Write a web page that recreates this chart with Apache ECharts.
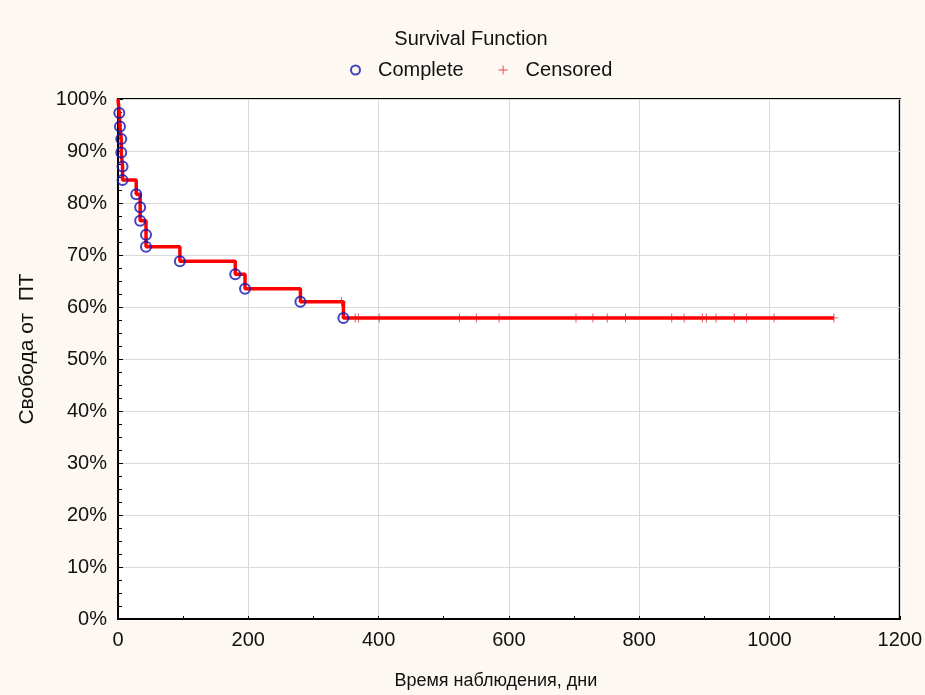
<!DOCTYPE html>
<html>
<head>
<meta charset="utf-8">
<script src="https://cdn.jsdelivr.net/npm/echarts@6/dist/echarts.min.js"></script>
<style>
html,body{margin:0;padding:0;background:#fdf9f2;}
#c{width:925px;height:695px;}
</style>
</head>
<body>
<div id="c"></div>
<script>
// Complete (event) observations: day, cumulative proportion surviving (%)
const eventDays = [2, 3, 5, 5, 7, 7, 28, 34, 34, 43, 43, 95, 180, 195, 280, 346];
const eventSurv = [97.3, 94.7, 92.3, 89.7, 87.0, 84.4, 81.7, 79.2, 76.6, 73.9, 71.6, 68.8, 66.3, 63.5, 61.0, 57.9];
// Censored observations
const censDays = [343, 364, 369, 401, 524, 550, 585, 703, 729, 751, 779, 850, 869, 897, 903, 918, 946, 965, 1007, 1099];
const censSurv = [61.0, 57.9, 57.9, 57.9, 57.9, 57.9, 57.9, 57.9, 57.9, 57.9, 57.9, 57.9, 57.9, 57.9, 57.9, 57.9, 57.9, 57.9, 57.9, 57.9];
const xTicks = [0, 200, 400, 600, 800, 1000, 1200];
const yTicks = [0, 10, 20, 30, 40, 50, 60, 70, 80, 90, 100];

const FONT = 'Liberation Sans, Arial, sans-serif';
const FS = 20;

// step curve built from the data arrays
const curve = [[0, 100]];
eventDays.forEach((d, i) => curve.push([d, eventSurv[i]]));
curve.push([censDays[censDays.length - 1], eventSurv[eventSurv.length - 1]]);

const completeData = eventDays.map((d, i) => [d, eventSurv[i]]);
const censData = censDays.map((d, i) => [d, censSurv[i]]);

const plusPath = 'path://M4.5,0h1v4.5h4.5v1h-4.5v4.5h-1v-4.5h-4.5v-1h4.5z';

const chart = echarts.init(document.getElementById('c'), null, {renderer: 'canvas'});
chart.setOption({
  backgroundColor: '#fdf9f2',
  animation: false,
  title: {
    text: 'Survival Function',
    left: 466, top: 24, textAlign: 'center',
    textStyle: {fontFamily: FONT, fontSize: FS, fontWeight: 'normal', color: '#111'}
  },
  legend: {
    top: 55, left: 345,
    itemWidth: 9, itemHeight: 9, itemGap: 35,
    textStyle: {fontFamily: FONT, fontSize: FS, color: '#111', padding: [0, 0, 0, 13]},
    data: ['Complete', 'Censored']
  },
  grid: {
    left: 118, right: 24, top: 99, bottom: 74,
    show: true, backgroundColor: '#ffffff', borderColor: '#000', borderWidth: 2
  },
  xAxis: {
    type: 'value', min: xTicks[0], max: xTicks[xTicks.length - 1], interval: 200,
    name: 'Время наблюдения, дни', nameLocation: 'middle', nameGap: 53,
    nameTextStyle: {fontFamily: FONT, fontSize: 18, color: '#111', padding: [0, 26, 0, 0]},
    axisLine: {show: true, onZero: false, lineStyle: {color: '#000', width: 2}},
    axisTick: {show: true, inside: true, length: 3, lineStyle: {color: '#000'}},
    minorTick: {show: true, splitNumber: 2, length: 3, lineStyle: {color: '#000'}},
    axisLabel: {fontFamily: FONT, fontSize: FS, color: '#111', margin: 11,
      formatter: v => String(v)},
    splitLine: {show: true, lineStyle: {color: '#d9d9d9', width: 1}}
  },
  yAxis: {
    type: 'value', min: yTicks[0], max: yTicks[yTicks.length - 1], interval: 10,
    name: 'Свобода от  ПТ', nameLocation: 'middle', nameGap: 80,
    nameTextStyle: {fontFamily: FONT, fontSize: 21, color: '#111', padding: [0, 0, 0, 20]},
    axisLine: {show: true, onZero: false, lineStyle: {color: '#000', width: 2}},
    axisTick: {show: true, inside: true, length: 5, lineStyle: {color: '#000'}},
    minorTick: {show: true, splitNumber: 4, length: 4, lineStyle: {color: '#000'}},
    axisLabel: {fontFamily: FONT, fontSize: FS, color: '#111', margin: 11, formatter: '{value}%'},
    splitLine: {show: true, lineStyle: {color: '#d9d9d9', width: 1}}
  },
  series: [
    {
      name: 'curve', type: 'line', step: 'end', data: curve,
      showSymbol: false, symbol: 'none',
      lineStyle: {color: '#ff0000', width: 3.5}, z: 2, silent: true
    },
    {
      name: 'Complete', type: 'scatter', data: completeData,
      symbol: 'circle', symbolSize: 10,
      itemStyle: {color: 'rgba(0,0,0,0)', borderColor: '#1414b4', borderWidth: 2},
      z: 4
    },
    {
      name: 'Censored', type: 'scatter', data: censData,
      symbol: plusPath, symbolSize: 9,
      itemStyle: {color: '#e01a1a'},
      z: 3
    }
  ]
});
</script>
</body>
</html>
